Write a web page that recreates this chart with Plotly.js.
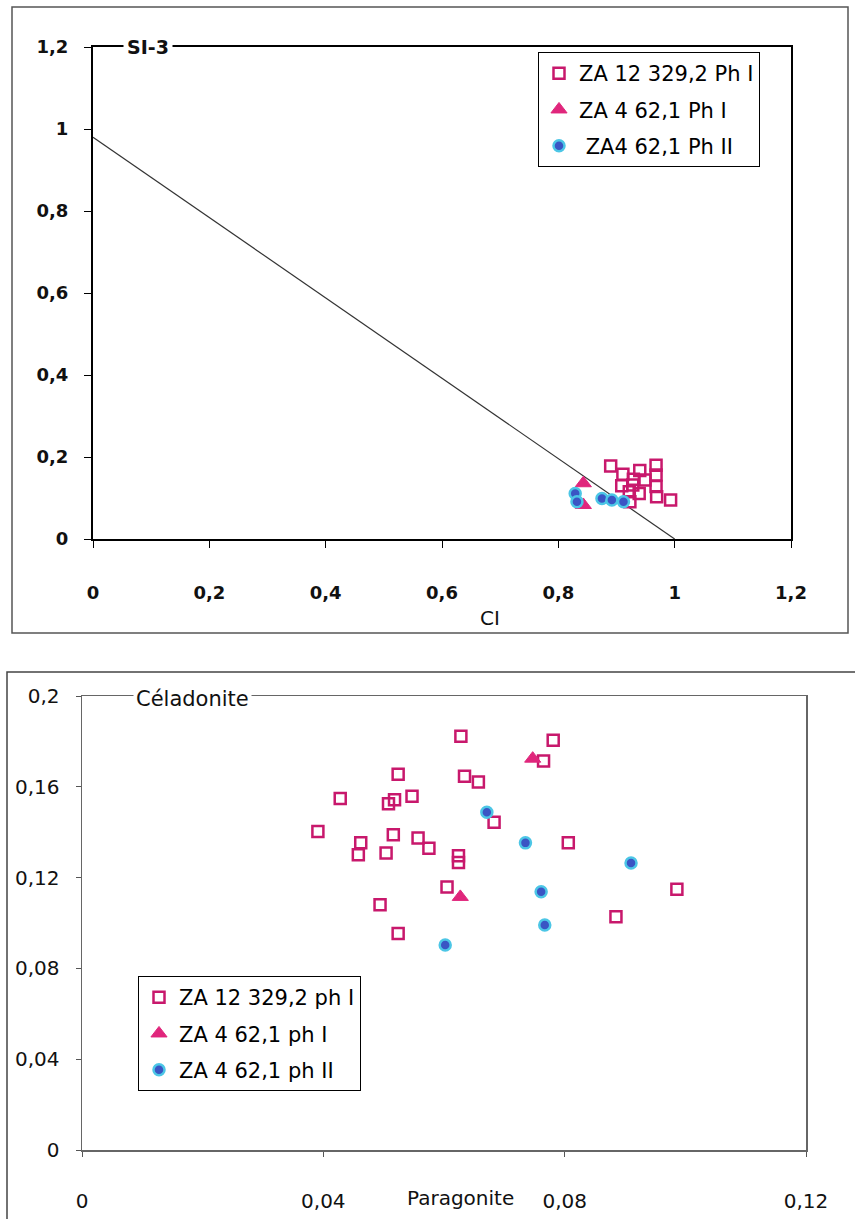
<!DOCTYPE html>
<html>
<head>
<meta charset="utf-8">
<script src="https://cdn.plot.ly/plotly-3.0.1.min.js"></script>
<style>html,body{margin:0;padding:0;background:#fff;}#chart{width:855px;height:1219px;}</style>
</head>
<body>
<div id="chart"></div>
<script>
// ---------- Top chart (CI vs SI-3) ----------
const topNames = ["ZA 12 329,2 Ph I", "ZA 4 62,1 Ph I", " ZA4 62,1 Ph II"];
const topSqX = [0.890, 0.911, 0.940, 0.968, 0.968, 0.929, 0.949, 0.909, 0.928, 0.968, 0.922, 0.939, 0.969, 0.993, 0.923];
const topSqY = [0.178, 0.158, 0.167, 0.180, 0.156, 0.146, 0.144, 0.130, 0.132, 0.128, 0.115, 0.111, 0.103, 0.095, 0.091];
const topTriX = [0.843, 0.843];
const topTriY = [0.136, 0.083];
const topCirX = [0.829, 0.832, 0.875, 0.892, 0.912];
const topCirY = [0.111, 0.091, 0.099, 0.095, 0.091];
const topLineX = [0, 1];
const topLineY = [0.98, 0];
const topXTicks = [0, 0.2, 0.4, 0.6, 0.8, 1, 1.2];
const topXText = ["0", "0,2", "0,4", "0,6", "0,8", "1", "1,2"];
const topYTicks = [0, 0.2, 0.4, 0.6, 0.8, 1, 1.2];
const topYText = ["0", "0,2", "0,4", "0,6", "0,8", "1", "1,2"];
const topXTitle = "CI";
const topYTitle = "SI-3";

// ---------- Bottom chart (Paragonite vs Céladonite) ----------
const botNames = ["ZA 12 329,2 ph I", "ZA 4 62,1 ph I", "ZA 4 62,1 ph II"];
const botSqX = [0.0628, 0.0781, 0.0765, 0.0524, 0.0634, 0.0657, 0.0547, 0.0518, 0.0508, 0.0683, 0.0516, 0.0557, 0.0575, 0.0462, 0.0458, 0.0504, 0.0806, 0.0624, 0.0624, 0.0605, 0.0986, 0.0494, 0.0885, 0.0524, 0.0391, 0.0428];
const botSqY = [0.1823, 0.1805, 0.1714, 0.1655, 0.1646, 0.1621, 0.1558, 0.1543, 0.1525, 0.1444, 0.1389, 0.1375, 0.1329, 0.1353, 0.1301, 0.1308, 0.1353, 0.1296, 0.1267, 0.1159, 0.1149, 0.1080, 0.1027, 0.0954, 0.1403, 0.1549];
const botTriX = [0.0747, 0.0627];
const botTriY = [0.1724, 0.1115];
const botCirX = [0.0671, 0.0735, 0.0910, 0.0761, 0.0767, 0.0602];
const botCirY = [0.1488, 0.1353, 0.1264, 0.1138, 0.0991, 0.0903];
const botXTicks = [0, 0.04, 0.08, 0.12];
const botXText = ["0", "0,04", "0,08", "0,12"];
const botYTicks = [0, 0.04, 0.08, 0.12, 0.16, 0.2];
const botYText = ["0", "0,04", "0,08", "0,12", "0,16", "0,2"];
const botXTitle = "Paragonite";
const botYTitle = "Céladonite";

// ---------- styling ----------
const W = 855, H = 1219;
const px = v => v / W;
const py = v => 1 - v / H;
const SQ = "#c8186c", TRI = "#e0267c", CIRF = "#3a55c4", CIRL = "#4cc6e6";
const FONT = "DejaVu Sans";

const sq = {symbol: "square-open", size: 11, color: SQ, line: {color: SQ, width: 2.5}};
const tri = {symbol: "triangle-up", size: 14, color: TRI, line: {color: TRI, width: 1}};
const cir = {symbol: "circle", size: 11, color: CIRF, line: {color: CIRL, width: 2.5}};

const traces = [
  {x: topLineX, y: topLineY, mode: "lines", line: {color: "#333", width: 1.2}, showlegend: false, hoverinfo: "skip", xaxis: "x", yaxis: "y"},
  {x: topSqX, y: topSqY, mode: "markers", name: topNames[0], marker: sq, xaxis: "x", yaxis: "y", legend: "legend", legendgroup: "a"},
  {x: topTriX, y: topTriY, mode: "markers", name: topNames[1], marker: tri, xaxis: "x", yaxis: "y", legend: "legend", legendgroup: "b"},
  {x: topCirX, y: topCirY, mode: "markers", name: topNames[2], marker: cir, xaxis: "x", yaxis: "y", legend: "legend", legendgroup: "c"},
  {x: botSqX, y: botSqY, mode: "markers", name: botNames[0], marker: sq, xaxis: "x2", yaxis: "y2", legend: "legend2", legendgroup: "d"},
  {x: botTriX, y: botTriY, mode: "markers", name: botNames[1], marker: tri, xaxis: "x2", yaxis: "y2", legend: "legend2", legendgroup: "e"},
  {x: botCirX, y: botCirY, mode: "markers", name: botNames[2], marker: cir, xaxis: "x2", yaxis: "y2", legend: "legend2", legendgroup: "f"}
];

const topTickFont = {family: FONT, size: 18, color: "#111", weight: "bold"};
const botTickFont = {family: FONT, size: 20, color: "#111"};

const layout = {
  width: W, height: H,
  margin: {l: 0, r: 0, t: 0, b: 0, pad: 0},
  paper_bgcolor: "#fff", plot_bgcolor: "#fff",
  separators: ", ",
  xaxis: {
    domain: [px(93), px(791)], range: [0, 1.2], anchor: "y",
    tickvals: topXTicks, ticktext: topXText, ticks: "outside", ticklen: 7, tickcolor: "#000", tickwidth: 1,
    showline: true, linecolor: "#000", linewidth: 2, mirror: true,
    showgrid: false, zeroline: false, tickfont: topTickFont, ticklabelstandoff: 29, fixedrange: true
  },
  yaxis: {
    domain: [py(539), py(47)], range: [0, 1.2], anchor: "x",
    tickvals: topYTicks, ticktext: topYText, ticks: "outside", ticklen: 7, tickcolor: "#000", tickwidth: 1,
    showline: true, linecolor: "#000", linewidth: 2, mirror: true,
    showgrid: false, zeroline: false, tickfont: topTickFont, ticklabelstandoff: 12, fixedrange: true
  },
  xaxis2: {
    domain: [px(82), px(806)], range: [0, 0.12], anchor: "y2",
    tickvals: botXTicks, ticktext: botXText, ticks: "outside", ticklen: 5, tickcolor: "#555", tickwidth: 1,
    showline: true, linecolor: "#666", linewidth: 1.5, mirror: true,
    showgrid: false, zeroline: false, tickfont: botTickFont, ticklabelstandoff: 27, fixedrange: true
  },
  yaxis2: {
    domain: [py(1150), py(696)], range: [0, 0.2], anchor: "x2",
    tickvals: botYTicks, ticktext: botYText, ticks: "outside", ticklen: 5, tickcolor: "#555", tickwidth: 1,
    showline: true, linecolor: "#666", linewidth: 1.5, mirror: true,
    showgrid: false, zeroline: false, tickfont: botTickFont, ticklabelstandoff: 12, fixedrange: true
  },
  legend: {
    x: px(538), y: py(52), xanchor: "left", yanchor: "top",
    bgcolor: "#fff", bordercolor: "#000", borderwidth: 1,
    font: {family: FONT, size: 21, color: "#000"}, tracegroupgap: 6, itemwidth: 30
  },
  legend2: {
    x: px(138), y: py(976), xanchor: "left", yanchor: "top",
    bgcolor: "#fff", bordercolor: "#000", borderwidth: 1,
    font: {family: FONT, size: 21, color: "#000"}, tracegroupgap: 6, itemwidth: 30
  },
  shapes: [
    {type: "rect", xref: "paper", yref: "paper", x0: px(12), x1: px(848), y0: py(633), y1: py(7), line: {color: "#555", width: 1.5}},
    {type: "rect", xref: "paper", yref: "paper", x0: px(7), x1: px(870), y0: py(1240), y1: py(672), line: {color: "#444", width: 1.5}}
  ],
  annotations: [
    {xref: "paper", yref: "paper", x: px(148), y: py(47), text: topYTitle, showarrow: false, bgcolor: "#fff",
     font: {family: FONT, size: 19, color: "#111", weight: "bold"}, xanchor: "center", yanchor: "middle", borderpad: 3},
    {xref: "paper", yref: "paper", x: px(490), y: py(618), text: topXTitle, showarrow: false,
     font: {family: FONT, size: 20, color: "#111"}, xanchor: "center", yanchor: "middle"},
    {xref: "paper", yref: "paper", x: px(192), y: py(699), text: botYTitle, showarrow: false, bgcolor: "#fff",
     font: {family: FONT, size: 21, color: "#111"}, xanchor: "center", yanchor: "middle", borderpad: 2},
    {xref: "paper", yref: "paper", x: px(460), y: py(1198), text: botXTitle, showarrow: false,
     font: {family: FONT, size: 20, color: "#111"}, xanchor: "center", yanchor: "middle"}
  ]
};

Plotly.newPlot("chart", traces, layout, {displayModeBar: false, staticPlot: true});
</script>
</body>
</html>
